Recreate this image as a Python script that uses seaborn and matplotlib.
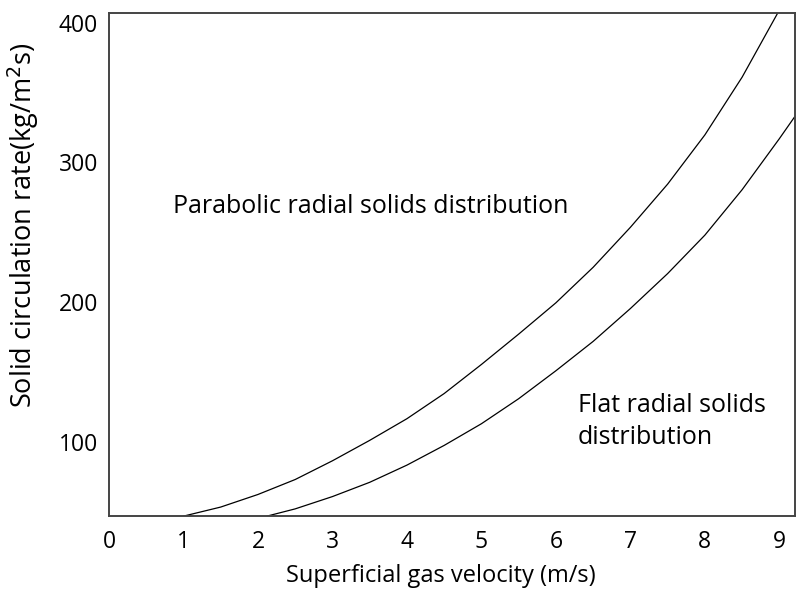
import matplotlib
matplotlib.use("Agg")
import matplotlib.pyplot as plt
import seaborn as sns
import pandas as pd

# Upper boundary curve (parabolic / flat transition)
upper_x = [1.0, 1.5, 2.0, 2.5, 3.0, 3.5, 4.0, 4.5, 5.0, 5.5, 6.0, 6.5, 7.0, 7.5, 8.0, 8.5, 9.0]
upper_y = [47, 53.5, 62.5, 73.2, 86.6, 101.2, 116.7, 134.7, 155.5, 177.2, 199.6, 225, 253.6, 284.5, 319.7, 361, 409]
# Lower boundary curve
lower_x = [2.12, 2.5, 3.0, 3.5, 4.0, 4.5, 5.0, 5.5, 6.0, 6.5, 7.0, 7.5, 8.0, 8.5, 9.0, 9.21]
lower_y = [47, 52.2, 61, 71.2, 83.5, 97.6, 113.1, 131, 151, 172, 195.5, 220.5, 248, 280.5, 317, 333]

x_ticks = [0, 1, 2, 3, 4, 5, 6, 7, 8, 9]
y_ticks = [100, 200, 300, 400]

df = pd.concat([
    pd.DataFrame({"x": upper_x, "y": upper_y, "curve": "upper"}),
    pd.DataFrame({"x": lower_x, "y": lower_y, "curve": "lower"}),
])

sns.set_theme(style="white")
plt.rcParams["font.family"] = ["Open Sans", "DejaVu Sans"]

fig = plt.figure(figsize=(7.97, 5.92), dpi=100)
ax = fig.add_axes([109 / 797, 1 - 516 / 592, (795 - 109) / 797, (516 - 13) / 592])

sns.lineplot(data=df, x="x", y="y", units="curve", estimator=None, sort=False,
             color="black", linewidth=0.9, ax=ax, legend=False)

ax.set_xlim(0.075, 9.21)
ax.set_ylim(47.1, 406.9)
ax.set_xticks(x_ticks)
ax.set_yticks(y_ticks)
ax.tick_params(axis="both", labelsize=16.5, length=0, colors="black")
ax.tick_params(axis="x", pad=10)
ax.tick_params(axis="y", pad=8)
for lab in ax.get_xticklabels():
    lab.set_clip_on(False)
for s in ax.spines.values():
    s.set_color("#444444")
    s.set_linewidth(1.4)

ax.set_xlabel("Superficial gas velocity (m/s)", fontsize=17, color="black")
ax.xaxis.set_label_coords(0.484, -0.095)
ax.set_ylabel("Solid circulation rate(kg/m$^2$s)", fontsize=19.5, color="black")
ax.yaxis.set_label_coords(-0.099, 0.578)

ax.text(0.86, 268.8, "Parabolic radial solids distribution", fontsize=18,
        ha="left", va="center", color="black")
ax.text(6.29, 114.7, "Flat radial solids\ndistribution", fontsize=18,
        ha="left", va="center", color="black", linespacing=1.42)

fig.savefig("out.png", dpi=100)
